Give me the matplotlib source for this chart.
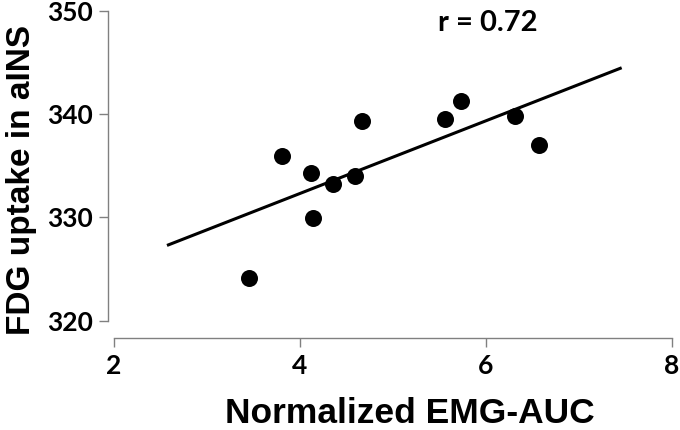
import matplotlib
matplotlib.use("Agg")
import matplotlib.pyplot as plt

# Data
emg_auc = [3.455, 3.81, 4.12, 4.135, 4.355, 4.595, 4.667, 5.559, 5.728, 6.312, 6.567]
fdg_uptake = [324.15, 335.93, 334.29, 329.9, 333.19, 333.97, 339.32, 339.49, 341.29, 339.81, 337.03]
fit_x = [2.57, 7.459]
fit_y = [327.28, 344.48]
x_ticks = [2, 4, 6, 8]
y_ticks = [320, 330, 340, 350]
r_text = "r = 0.72"

fig = plt.figure(figsize=(6.8, 4.3), dpi=100)
ax = fig.add_axes([108.4 / 680, (430 - 338.2) / 430, (675.7 - 108.4) / 680, 328.5 / 430])

ax.plot(fit_x, fit_y, color="black", lw=2.2, solid_capstyle="butt")
ax.scatter(emg_auc, fdg_uptake, s=150, color="black", zorder=3, linewidths=0)

ax.set_xlim(1.94, 8.04)
ax.set_ylim(318.3, 350.1)

for s in ["top", "right"]:
    ax.spines[s].set_visible(False)
ax.spines["left"].set_bounds(320, 350)
ax.spines["bottom"].set_bounds(2, 8)
for s in ["left", "bottom"]:
    ax.spines[s].set_color("#808080")
    ax.spines[s].set_linewidth(1.0)

ax.set_xticks(x_ticks)
ax.set_yticks(y_ticks)
ax.tick_params(direction="out", length=6.3, width=1.0, color="#808080", pad=5)
for lab in ax.get_xticklabels() + ax.get_yticklabels():
    lab.set_fontfamily("Lato")
    lab.set_fontweight("bold")
    lab.set_fontsize(19)

ax.set_xlabel("Normalized EMG-AUC", family="Liberation Sans", weight="bold", fontsize=25.5,
              labelpad=14, x=0.532)
ax.set_ylabel("FDG uptake in aINS", family="Liberation Sans", weight="bold", fontsize=24,
              labelpad=7, y=0.482)

ax.text(488, 430 - 23, r_text, transform=None, ha="center", va="center", family="Lato",
        weight="bold", fontsize=21)

fig.savefig("out.png", dpi=100)
